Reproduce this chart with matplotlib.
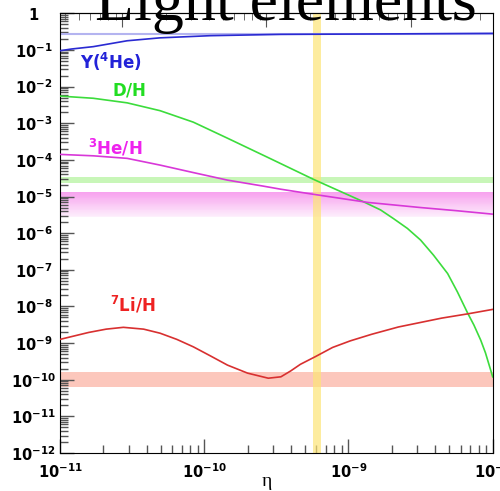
import matplotlib
matplotlib.use("Agg")
import numpy as np
import matplotlib.pyplot as plt
from matplotlib.ticker import LogLocator, FixedLocator, FuncFormatter, NullFormatter
from matplotlib.colors import to_rgb

# baryon-to-photon ratio and predicted abundances
eta_he = [1e-11, 1.2e-11, 1.7e-11, 2.92e-11, 4.94e-11, 1.1e-10, 3.4e-10, 2.3e-9, 1e-8]
y_he = [0.095, 0.106, 0.123, 0.178, 0.214, 0.245, 0.266, 0.275, 0.284]

eta_d = [1e-11, 1.7e-11, 2.92e-11, 4.94e-11, 8.4e-11, 1.45e-10, 2.82e-10, 5.71e-10,
         8.34e-10, 1.27e-9, 1.67e-9, 2.05e-9, 2.56e-9, 3.16e-9, 3.89e-9, 4.87e-9,
         5.69e-9, 6.7e-9, 7.41e-9, 8.26e-9, 8.91e-9, 1e-8]
d_h = [5.5e-3, 4.8e-3, 3.6e-3, 2.2e-3, 1.07e-3, 3.9e-4, 1.12e-4, 2.95e-5,
       1.51e-5, 7.2e-6, 4.3e-6, 2.5e-6, 1.35e-6, 6.5e-7, 2.5e-7, 7.9e-8,
       2.5e-8, 6.6e-9, 3.1e-9, 1.2e-9, 5.4e-10, 1.2e-10]

eta_he3 = [1e-11, 1.7e-11, 2.92e-11, 4.94e-11, 8.4e-11, 1.45e-10, 2.51e-10, 3.4e-10,
           5.71e-10, 1.36e-9, 3.16e-9, 5.62e-9, 1e-8]
he3_h = [1.41e-4, 1.29e-4, 1.10e-4, 7.2e-5, 4.5e-5, 2.8e-5, 1.95e-5, 1.58e-5,
         1.15e-5, 6.9e-6, 5.0e-6, 4.1e-6, 3.3e-6]

eta_li = [1e-11, 1.58e-11, 2.09e-11, 2.75e-11, 3.8e-11, 4.94e-11, 6.46e-11, 8.4e-11,
          1.1e-10, 1.45e-10, 2.0e-10, 2.78e-10, 3.4e-10, 3.98e-10, 4.64e-10, 5.9e-10,
          7.76e-10, 1.03e-9, 1.45e-9, 2.22e-9, 4.43e-9, 6.76e-9, 1e-8]
li_h = [1.26e-9, 1.95e-9, 2.4e-9, 2.69e-9, 2.4e-9, 1.86e-9, 1.26e-9, 7.9e-10,
        4.5e-10, 2.5e-10, 1.51e-10, 1.1e-10, 1.2e-10, 1.74e-10, 2.63e-10, 4.27e-10,
        7.6e-10, 1.15e-9, 1.74e-9, 2.75e-9, 4.8e-9, 6.3e-9, 8.3e-9]

# observed ranges
y_obs = 0.265
d_band = (2.4e-5, 3.5e-5)
he3_band = (2.7e-6, 1.37e-5)
li_band = (6.4e-11, 1.66e-10)
eta_band = (5.7e-10, 6.4e-10)

fig = plt.figure(figsize=(5, 4.91), dpi=100)
ax = fig.add_axes([0.12, 0.0774, 0.8654, 0.8955])
ax.set_xscale("log")
ax.set_yscale("log")
ax.set_xlim(1e-11, 1e-8)
ax.set_ylim(1e-12, 1)

ax.axhspan(*d_band, color="#c8f6b8", lw=0, zorder=1)
# 3He band fades out towards the bottom
edges = np.logspace(np.log10(he3_band[0]), np.log10(he3_band[1]), 31)
c_top, c_bot = np.array(to_rgb("#f7a0ee")), np.array(to_rgb("#fdf0fc"))
for i in range(30):
    f = i / 29
    ax.axhspan(edges[i], edges[i + 1], color=c_bot * (1 - f) + c_top * f, lw=0, zorder=1)
ax.axhspan(*li_band, color="#fcc7bc", lw=0, zorder=1)
ax.axvspan(*eta_band, color="#fde477", alpha=0.7, lw=0, zorder=2)
ax.axhline(y_obs, color="#b4b4f0", lw=1.5, zorder=2)

ax.plot(eta_he, y_he, color="#2a2ad2", lw=1.2, zorder=3)
ax.plot(eta_d, d_h, color="#3cdc3c", lw=1.2, zorder=3)
ax.plot(eta_he3, he3_h, color="#d838d8", lw=1.2, zorder=3)
ax.plot(eta_li, li_h, color="#d83030", lw=1.2, zorder=3)

lab = dict(fontsize=12, ha="left", va="center")
ax.text(1.38e-11, 0.048, r"$\mathbf{Y(^{4}He)}$", color="#2222d8", **lab)
ax.text(2.3e-11, 7.6e-3, r"$\mathbf{D/H}$", color="#22dd22", **lab)
ax.text(1.56e-11, 2.1e-4, r"$\mathbf{{}^{3}He/H}$", color="#ee22ee", **lab)
ax.text(2.22e-11, 1.1e-8, r"$\mathbf{{}^{7}Li/H}$", color="#ee2222", **lab)


def power_label(v, pos):
    n = int(round(np.log10(v)))
    if n == 0:
        return r"$\mathbf{1}$"
    return r"$\mathbf{10^{%d}}$" % n


ax.xaxis.set_major_locator(FixedLocator([10.0 ** n for n in range(-11, -7)]))
ax.xaxis.set_minor_locator(FixedLocator([k * 10.0 ** n for n in range(-11, -8) for k in range(2, 10)]))
ax.yaxis.set_major_locator(FixedLocator([10.0 ** n for n in range(-12, 1)]))
ax.yaxis.set_minor_locator(FixedLocator([k * 10.0 ** n for n in range(-12, 0) for k in range(2, 10)]))
for axis in (ax.xaxis, ax.yaxis):
    axis.set_major_formatter(FuncFormatter(power_label))
    axis.set_minor_formatter(NullFormatter())

ax.tick_params(which="both", direction="in", color="#555555", width=1,
               top=False, right=False, labelsize=10.5)
ax.tick_params(which="major", length=10)
ax.tick_params(which="minor", length=6)
ax.tick_params(axis="x", pad=7)
ax.tick_params(axis="y", pad=19)
for t in ax.get_yticklabels():
    t.set_ha("center")

# baryon density axis along the top
sec = ax.secondary_xaxis("top", functions=(lambda e: e / 2.7e-8, lambda o: o * 2.7e-8))
sec.tick_params(which="both", direction="in", color="#555555", labeltop=False)
sec.tick_params(which="major", length=10)
sec.tick_params(which="minor", length=5)

fig.text(267 / 500, 1 - 482 / 491, "η", family="Liberation Serif", fontsize=14,
         ha="center", va="center")
fig.text(286 / 500, 1 - 20 / 491, "Light elements", family="Liberation Serif",
         fontsize=46, ha="center", va="baseline")

fig.savefig("out.png", dpi=100)
